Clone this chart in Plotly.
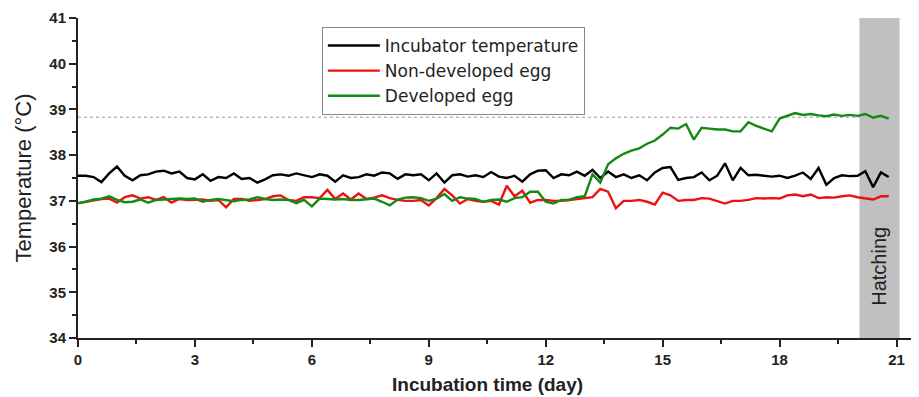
import plotly.graph_objects as go

# Time axis (days), sampled every 0.2 day
days = [round(i * 0.2, 1) for i in range(105)]

incubator = [
    37.55, 37.55, 37.52, 37.41, 37.60, 37.75, 37.55, 37.45, 37.56, 37.58,
    37.64, 37.66, 37.60, 37.64, 37.50, 37.47, 37.58, 37.44, 37.52, 37.50,
    37.60, 37.48, 37.50, 37.40, 37.47, 37.56, 37.58, 37.55, 37.60, 37.56,
    37.52, 37.58, 37.55, 37.42, 37.56, 37.50, 37.52, 37.58, 37.55, 37.62,
    37.60, 37.48, 37.58, 37.56, 37.58, 37.45, 37.60, 37.40, 37.56, 37.58,
    37.53, 37.56, 37.52, 37.63, 37.53, 37.50, 37.55, 37.42, 37.58, 37.66,
    37.67, 37.50, 37.58, 37.56, 37.64, 37.55, 37.68, 37.50, 37.64, 37.52,
    37.58, 37.50, 37.56, 37.45, 37.62, 37.72, 37.74, 37.46, 37.50, 37.52,
    37.62, 37.45, 37.55, 37.82, 37.45, 37.72, 37.56, 37.57, 37.55, 37.53,
    37.55, 37.50, 37.55, 37.62, 37.48, 37.72, 37.35, 37.50, 37.56, 37.54,
    37.55, 37.65, 37.30, 37.62, 37.52,
]

non_developed = [
    36.95, 36.98, 37.02, 37.04, 37.05, 36.96, 37.08, 37.12, 37.05, 37.08,
    37.02, 37.08, 36.96, 37.04, 37.02, 37.03, 37.03, 37.00, 37.02, 36.86,
    37.04, 37.04, 37.00, 37.02, 37.04, 37.10, 37.12, 37.02, 37.00, 37.08,
    37.08, 37.06, 37.24, 37.04, 37.16, 37.03, 37.16, 37.04, 37.07, 37.12,
    37.06, 37.02, 37.00, 37.00, 37.02, 36.90, 37.06, 37.26, 37.12, 36.94,
    37.04, 37.00, 36.98, 37.00, 36.92, 37.33, 37.10, 37.22, 36.96, 37.02,
    37.02, 37.00, 37.00, 37.02, 37.04, 37.06, 37.08, 37.26, 37.20, 36.84,
    37.00, 37.00, 37.02, 36.98, 36.92, 37.18, 37.12, 37.00, 37.02, 37.02,
    37.06, 37.05, 37.00, 36.94, 37.00, 37.00, 37.02, 37.06, 37.05, 37.06,
    37.05, 37.12, 37.14, 37.10, 37.14, 37.06, 37.08, 37.07, 37.10, 37.12,
    37.08, 37.06, 37.03, 37.10, 37.10,
]

developed = [
    36.95, 36.98, 37.03, 37.05, 37.10, 37.02, 36.97, 36.98, 37.03, 36.96,
    37.02, 37.03, 37.04, 37.05, 37.04, 37.05, 36.98, 37.02, 37.04, 37.02,
    36.99, 37.02, 37.03, 37.08, 37.04, 37.02, 37.03, 37.02, 36.95, 37.02,
    36.88, 37.05, 37.04, 37.03, 37.04, 37.02, 37.02, 37.04, 37.05, 36.98,
    36.90, 37.03, 37.07, 37.08, 37.06, 37.00, 37.05, 37.15, 37.00, 37.08,
    37.05, 37.04, 36.98, 37.02, 37.03, 36.98, 37.06, 37.08, 37.20, 37.20,
    36.98, 36.94, 37.02, 37.02, 37.08, 37.10, 37.58, 37.40, 37.80, 37.93,
    38.03, 38.10, 38.15, 38.25, 38.32, 38.45, 38.60, 38.58, 38.68, 38.34,
    38.60, 38.58, 38.56, 38.56, 38.52, 38.52, 38.72, 38.64, 38.58, 38.52,
    38.80, 38.86, 38.92, 38.88, 38.90, 38.87, 38.85, 38.89, 38.86, 38.88,
    38.86, 38.90, 38.82, 38.86, 38.80,
]

reference_level = 38.83
hatch_start, hatch_end = 20.05, 21.08
x_ticks = [0, 3, 6, 9, 12, 15, 18, 21]
y_ticks = [34, 35, 36, 37, 38, 39, 40, 41]

FONT = "Arial, 'Liberation Sans', sans-serif"

fig = go.Figure()
fig.add_trace(go.Scatter(x=days, y=incubator, mode="lines", name="Incubator temperature",
                         line=dict(color="#000000", width=2.4)))
fig.add_trace(go.Scatter(x=days, y=non_developed, mode="lines", name="Non-developed egg",
                         line=dict(color="#ee1111", width=2.4)))
fig.add_trace(go.Scatter(x=days, y=developed, mode="lines", name="Developed egg",
                         line=dict(color="#138a13", width=2.4)))

fig.add_shape(type="rect", xref="x", yref="y", x0=hatch_start, x1=hatch_end, y0=34, y1=41,
              fillcolor="#c0c0c0", line=dict(width=0), layer="below")
fig.add_shape(type="line", xref="x", yref="y", x0=0, x1=hatch_start, y0=reference_level,
              y1=reference_level, line=dict(color="#999999", width=1, dash="dot"), layer="below")

fig.add_annotation(x=(hatch_start + hatch_end) / 2, y=35.57, xref="x", yref="y",
                   text="Hatching", textangle=-90, showarrow=False,
                   font=dict(family=FONT, size=20, color="#222222"))
fig.add_annotation(x=10.5, y=-0.144, xref="x", yref="paper", text="<b>Incubation time (day)</b>",
                   showarrow=False, yanchor="middle",
                   font=dict(family=FONT, size=19, color="#222222"))

# page body has an 8px margin, so the figure is sized to fill the 919x397 window from (8, 8)
fig.update_layout(
    width=911, height=389,
    margin=dict(l=70, r=3, t=10, b=59),
    paper_bgcolor="white", plot_bgcolor="white",
    showlegend=True,
    legend=dict(x=0.291, y=0.972, xanchor="left", yanchor="top",
                bordercolor="#888888", borderwidth=1, bgcolor="white",
                font=dict(family="'DejaVu Sans', Arial, sans-serif", size=17, color="#222222"),
                tracegroupgap=0, itemwidth=52),
)
fig.update_xaxes(range=[0, 21.5], tickvals=x_ticks, ticks="outside", ticklen=7, tickwidth=2,
                 tickcolor="#222", showline=True, linewidth=2, linecolor="#222",
                 showgrid=False, zeroline=False, automargin=False,
                 tickfont=dict(family=FONT, size=15, color="#222222", weight="bold"),
                 minor=dict(dtick=1.5, tick0=0, ticks="outside", ticklen=4, tickwidth=2,
                            tickcolor="#222", showgrid=False))
fig.update_yaxes(range=[34, 41], tickvals=y_ticks, ticks="outside", ticklen=7, tickwidth=2,
                 tickcolor="#222", showline=True, linewidth=2, linecolor="#222",
                 showgrid=False, zeroline=False, automargin=False,
                 tickfont=dict(family=FONT, size=15, color="#222222", weight="bold"),
                 minor=dict(dtick=0.5, tick0=34, ticks="outside", ticklen=4, tickwidth=2,
                            tickcolor="#222", showgrid=False),
                 title=dict(text="Temperature (°C)", standoff=12,
                            font=dict(family=FONT, size=22, color="#222222")))

fig.write_html("out.html")
